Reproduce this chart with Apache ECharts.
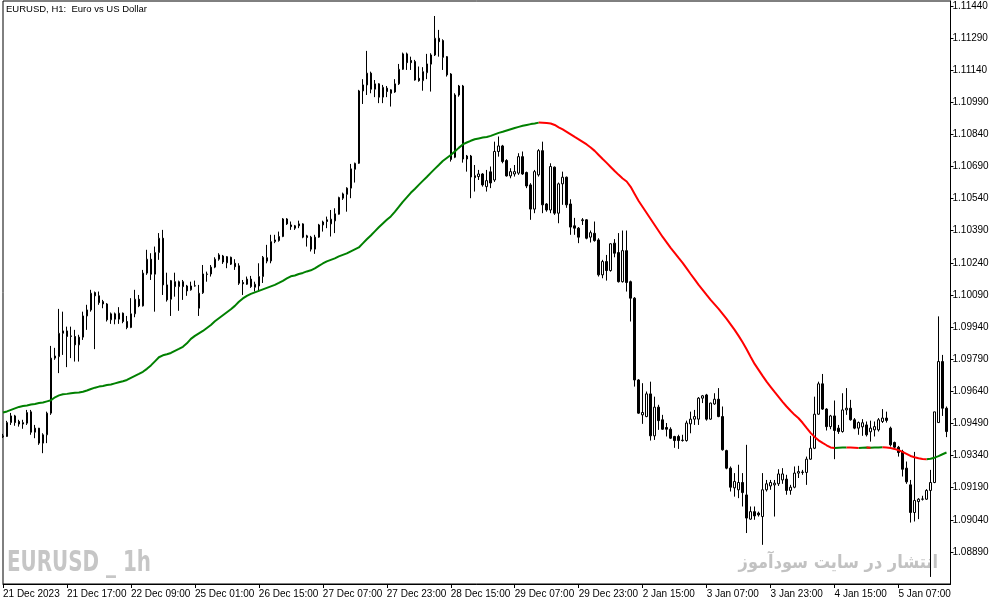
<!DOCTYPE html>
<html>
<head>
<meta charset="utf-8">
<script src="https://cdn.jsdelivr.net/npm/echarts@6/dist/echarts.min.js"></script>
<style>
html,body{margin:0;padding:0;background:#fff;}
#chart{width:1003px;height:605px;}
</style>
</head>
<body>
<div id="chart"></div>
<script>
// ---- data (EURUSD H1) ----
const tickLabels = ['21 Dec 2023','21 Dec 17:00','22 Dec 09:00','25 Dec 01:00','26 Dec 15:00','27 Dec 07:00','27 Dec 23:00','28 Dec 15:00','29 Dec 07:00','29 Dec 23:00','2 Jan 15:00','3 Jan 07:00','3 Jan 23:00','4 Jan 15:00','5 Jan 07:00'];
const barsPerTick = 16;

const opens = [
1.09427,1.09429,1.09494,1.09525,1.09499,1.09487,1.09491,1.09544,1.09449,1.09468,
1.09398,1.09437,1.09538,1.09795,1.09802,1.09911,1.09922,1.09896,1.09896,1.09857,
1.09893,1.09992,1.10020,1.10101,1.10086,1.10059,1.10048,1.09974,1.10002,1.09977,
1.10005,1.09966,1.09938,1.10002,1.10070,1.10039,1.10192,1.10257,1.10187,1.10288,
1.10355,1.10137,1.10070,1.10152,1.10129,1.10152,1.10132,1.10114,1.10132,1.10028,
1.10100,1.10186,1.10188,1.10220,1.10257,1.10272,1.10240,1.10266,1.10238,1.10226,
1.10148,1.10140,1.10164,1.10126,1.10132,1.10176,1.10248,1.10249,1.10339,1.10344,
1.10363,1.10445,1.10417,1.10413,1.10422,1.10422,1.10366,1.10360,1.10304,1.10360,
1.10417,1.10441,1.10422,1.10436,1.10467,1.10542,1.10560,1.10589,1.10677,1.10705,
1.11043,1.11071,1.11126,1.11051,1.11076,1.11014,1.11056,1.11048,1.11038,1.11076,
1.11144,1.11216,1.11185,1.11180,1.11102,1.11091,1.11128,1.11168,1.11211,1.11289,
1.11278,1.11203,1.11122,1.10733,1.11024,1.11066,1.10725,1.10739,1.10647,1.10643,
1.10655,1.10596,1.10665,1.10627,1.10760,1.10786,1.10718,1.10646,1.10655,1.10659,
1.10736,1.10662,1.10604,1.10491,1.10651,1.10764,1.10515,1.10487,1.10687,1.10472,
1.10609,1.10640,1.10515,1.10413,1.10402,1.10437,1.10441,1.10360,1.10378,1.10347,
1.10184,1.10246,1.10204,1.10332,1.10288,1.10152,1.10297,1.10152,1.10075,1.09693,
1.09530,1.09522,1.09628,1.09432,1.09566,1.09507,1.09471,1.09463,1.09429,1.09429,
1.09410,1.09410,1.09488,1.09510,1.09510,1.09608,1.09623,1.09510,1.09581,1.09603,
1.09522,1.09363,1.09281,1.09189,1.09180,1.09214,1.09156,1.09043,1.09078,1.09071,
1.09055,1.09180,1.09198,1.09203,1.09208,1.09226,1.09230,1.09177,1.09192,1.09258,
1.09261,1.09261,1.09323,1.09374,1.09533,1.09675,1.09557,1.09475,1.09525,1.09468,
1.09452,1.09553,1.09561,1.09507,1.09468,1.09474,1.09483,1.09451,1.09460,1.09460,
1.09499,1.09515,1.09468,1.09401,1.09379,1.09359,1.09281,1.09203,1.09074,1.09125,
1.09136,1.09136,1.09177,1.09214,1.09494,1.09779,1.09561
];
const highs = [
1.09441,1.09502,1.09539,1.09530,1.09507,1.09507,1.09553,1.09553,1.09483,1.09469,
1.09444,1.09545,1.09852,1.09843,1.10025,1.10012,1.09942,1.09942,1.09927,1.09904,
1.10012,1.10044,1.10114,1.10106,1.10106,1.10067,1.10052,1.10008,1.10008,1.10033,
1.10008,1.09992,1.10075,1.10114,1.10090,1.10207,1.10301,1.10285,1.10316,1.10379,
1.10394,1.10194,1.10160,1.10194,1.10157,1.10160,1.10137,1.10152,1.10157,1.10137,
1.10230,1.10199,1.10230,1.10266,1.10285,1.10277,1.10272,1.10269,1.10257,1.10238,
1.10160,1.10176,1.10179,1.10152,1.10238,1.10272,1.10324,1.10371,1.10371,1.10386,
1.10449,1.10449,1.10433,1.10417,1.10437,1.10425,1.10371,1.10366,1.10371,1.10422,
1.10437,1.10456,1.10487,1.10495,1.10549,1.10568,1.10593,1.10702,1.10708,1.11048,
1.11098,1.11230,1.11133,1.11094,1.11079,1.11071,1.11066,1.11051,1.11098,1.11169,
1.11222,1.11222,1.11203,1.11188,1.11157,1.11154,1.11216,1.11219,1.11393,1.11328,
1.11284,1.11206,1.11126,1.11032,1.11071,1.11071,1.10744,1.10744,1.10697,1.10674,
1.10659,1.10674,1.10690,1.10806,1.10830,1.10791,1.10724,1.10682,1.10697,1.10752,
1.10760,1.10666,1.10612,1.10674,1.10771,1.10806,1.10519,1.10705,1.10690,1.10615,
1.10666,1.10643,1.10537,1.10450,1.10407,1.10449,1.10444,1.10391,1.10433,1.10355,
1.10254,1.10277,1.10332,1.10351,1.10379,1.10391,1.10391,1.10157,1.10080,1.09697,
1.09678,1.09639,1.09685,1.09615,1.09577,1.09530,1.09492,1.09472,1.09432,1.09437,
1.09437,1.09503,1.09545,1.09553,1.09613,1.09623,1.09628,1.09587,1.09631,1.09655,
1.09569,1.09367,1.09289,1.09258,1.09297,1.09258,1.09390,1.09102,1.09102,1.09078,
1.09258,1.09226,1.09226,1.09226,1.09276,1.09281,1.09250,1.09203,1.09289,1.09292,
1.09273,1.09335,1.09432,1.09615,1.09685,1.09721,1.09561,1.09530,1.09597,1.09483,
1.09631,1.09655,1.09600,1.09515,1.09499,1.09510,1.09499,1.09503,1.09499,1.09515,
1.09557,1.09545,1.09475,1.09405,1.09385,1.09367,1.09312,1.09226,1.09357,1.09141,
1.09152,1.09183,1.09273,1.09544,1.09990,1.09810,1.09569
];
const lows = [
1.09422,1.09427,1.09483,1.09479,1.09475,1.09465,1.09483,1.09437,1.09421,1.09390,
1.09351,1.09398,1.09530,1.09787,1.09725,1.09810,1.09753,1.09795,1.09779,1.09779,
1.09880,1.09927,1.10012,1.09837,1.10044,1.10028,1.09966,1.09955,1.09953,1.09955,
1.09958,1.09930,1.09935,1.09986,1.10033,1.10036,1.10184,1.10160,1.10012,1.10254,
1.10090,1.10059,1.09992,1.10082,1.10016,1.10067,1.10086,1.10110,1.10129,1.09992,
1.10095,1.10152,1.10176,1.10215,1.10250,1.10235,1.10215,1.10230,1.10207,1.10137,
1.10090,1.10137,1.10123,1.10106,1.10106,1.10146,1.10238,1.10238,1.10332,1.10339,
1.10360,1.10417,1.10394,1.10394,1.10402,1.10355,1.10316,1.10293,1.10282,1.10357,
1.10386,1.10402,1.10363,1.10379,1.10465,1.10534,1.10479,1.10542,1.10615,1.10702,
1.10982,1.11024,1.11032,1.11014,1.10986,1.10986,1.11014,1.10970,1.11034,1.11071,
1.11141,1.11141,1.11141,1.11091,1.11086,1.11044,1.11098,1.11040,1.11206,1.11203,
1.11141,1.11110,1.10713,1.10729,1.11016,1.10708,1.10666,1.10542,1.10573,1.10627,
1.10596,1.10573,1.10589,1.10618,1.10736,1.10705,1.10643,1.10635,1.10643,1.10651,
1.10651,1.10589,1.10441,1.10472,1.10643,1.10472,1.10479,1.10472,1.10464,1.10425,
1.10511,1.10497,1.10371,1.10371,1.10332,1.10417,1.10350,1.10335,1.10339,1.10176,
1.10168,1.10157,1.10199,1.10266,1.10148,1.10148,1.10106,1.09966,1.09662,1.09535,
1.09488,1.09519,1.09410,1.09413,1.09460,1.09460,1.09429,1.09417,1.09376,1.09371,
1.09405,1.09405,1.09444,1.09483,1.09483,1.09585,1.09503,1.09507,1.09577,1.09519,
1.09363,1.09276,1.09172,1.09148,1.09141,1.09102,1.08978,1.09040,1.09040,1.09055,
1.08923,1.09172,1.09180,1.09055,1.09198,1.09208,1.09157,1.09157,1.09187,1.09235,
1.09250,1.09203,1.09320,1.09370,1.09530,1.09553,1.09457,1.09463,1.09323,1.09441,
1.09447,1.09530,1.09503,1.09463,1.09437,1.09432,1.09429,1.09405,1.09429,1.09452,
1.09492,1.09494,1.09382,1.09367,1.09335,1.09242,1.09208,1.09027,1.09032,1.09043,
1.09130,1.09133,1.08773,1.09211,1.09494,1.09525,1.09426
];
const closes = [
1.09432,1.09494,1.09525,1.09494,1.09487,1.09494,1.09541,1.09449,1.09468,1.09398,
1.09437,1.09538,1.09795,1.09805,1.09911,1.09922,1.09896,1.09899,1.09857,1.09893,
1.09992,1.10020,1.10098,1.10086,1.10054,1.10048,1.09974,1.10002,1.09977,1.10005,
1.09966,1.09938,1.10002,1.10070,1.10039,1.10192,1.10257,1.10187,1.10288,1.10355,
1.10137,1.10067,1.10157,1.10129,1.10152,1.10129,1.10109,1.10132,1.10133,1.10098,
1.10188,1.10188,1.10220,1.10257,1.10277,1.10244,1.10269,1.10234,1.10222,1.10145,
1.10142,1.10164,1.10129,1.10140,1.10176,1.10266,1.10264,1.10339,1.10347,1.10363,
1.10445,1.10422,1.10409,1.10402,1.10413,1.10360,1.10358,1.10304,1.10360,1.10417,
1.10431,1.10433,1.10444,1.10469,1.10545,1.10562,1.10589,1.10679,1.10705,1.11043,
1.11071,1.11126,1.11051,1.11076,1.11014,1.11060,1.11040,1.11032,1.11076,1.11144,
1.11216,1.11175,1.11175,1.11094,1.11091,1.11133,1.11169,1.11211,1.11289,1.11273,
1.11200,1.11118,1.10723,1.11024,1.11066,1.10725,1.10739,1.10641,1.10638,1.10655,
1.10604,1.10624,1.10613,1.10760,1.10786,1.10713,1.10646,1.10666,1.10666,1.10736,
1.10655,1.10599,1.10491,1.10666,1.10764,1.10511,1.10487,1.10690,1.10472,1.10609,
1.10640,1.10511,1.10407,1.10402,1.10360,1.10441,1.10355,1.10381,1.10344,1.10184,
1.10246,1.10204,1.10329,1.10285,1.10152,1.10297,1.10148,1.10075,1.09693,1.09538,
1.09541,1.09628,1.09432,1.09566,1.09503,1.09463,1.09463,1.09421,1.09410,1.09410,
1.09412,1.09492,1.09510,1.09522,1.09608,1.09619,1.09510,1.09585,1.09603,1.09522,
1.09367,1.09281,1.09192,1.09219,1.09214,1.09167,1.09048,1.09078,1.09058,1.09063,
1.09180,1.09208,1.09214,1.09211,1.09254,1.09254,1.09177,1.09192,1.09258,1.09265,
1.09263,1.09323,1.09374,1.09533,1.09675,1.09557,1.09475,1.09525,1.09457,1.09452,
1.09553,1.09561,1.09507,1.09468,1.09494,1.09493,1.09437,1.09468,1.09475,1.09507,
1.09515,1.09504,1.09390,1.09379,1.09354,1.09276,1.09217,1.09074,1.09130,1.09136,
1.09137,1.09177,1.09214,1.09544,1.09779,1.09561,1.09452
];
const maValues = [
1.09541,1.09546,1.09553,1.09560,1.09567,1.09571,1.09574,1.09578,1.09581,1.09585,
1.09588,1.09593,1.09598,1.09612,1.09621,1.09626,1.09628,1.09631,1.09633,1.09634,
1.09638,1.09644,1.09651,1.09657,1.09662,1.09665,1.09669,1.09672,1.09677,1.09682,
1.09687,1.09693,1.09703,1.09712,1.09721,1.09731,1.09745,1.09761,1.09780,1.09799,
1.09808,1.09813,1.09819,1.09829,1.09838,1.09848,1.09864,1.09885,1.09899,1.09911,
1.09922,1.09936,1.09950,1.09967,1.09981,1.09995,1.10009,1.10023,1.10039,1.10058,
1.10074,1.10086,1.10095,1.10102,1.10109,1.10116,1.10123,1.10130,1.10137,1.10146,
1.10156,1.10167,1.10177,1.10181,1.10188,1.10193,1.10200,1.10205,1.10214,1.10226,
1.10237,1.10247,1.10254,1.10261,1.10270,1.10277,1.10284,1.10294,1.10303,1.10312,
1.10331,1.10350,1.10368,1.10387,1.10406,1.10424,1.10441,1.10457,1.10478,1.10501,
1.10525,1.10546,1.10567,1.10585,1.10604,1.10623,1.10641,1.10660,1.10679,1.10697,
1.10716,1.10730,1.10744,1.10760,1.10777,1.10793,1.10802,1.10810,1.10817,1.10821,
1.10825,1.10828,1.10833,1.10840,1.10847,1.10852,1.10858,1.10864,1.10870,1.10875,
1.10880,1.10884,1.10888,1.10891,1.10895,1.10894,1.10893,1.10891,1.10884,1.10873,
1.10863,1.10852,1.10840,1.10828,1.10817,1.10805,1.10793,1.10779,1.10763,1.10744,
1.10725,1.10707,1.10688,1.10669,1.10651,1.10634,1.10620,1.10595,1.10562,1.10529,
1.10501,1.10473,1.10445,1.10417,1.10389,1.10361,1.10336,1.10310,1.10287,1.10263,
1.10240,1.10214,1.10188,1.10163,1.10137,1.10114,1.10090,1.10067,1.10046,1.10025,
1.10002,1.09978,1.09953,1.09927,1.09899,1.09869,1.09836,1.09801,1.09768,1.09740,
1.09712,1.09685,1.09661,1.09637,1.09614,1.09591,1.09569,1.09549,1.09530,1.09514,
1.09493,1.09469,1.09446,1.09427,1.09411,1.09399,1.09388,1.09378,1.09375,1.09376,
1.09377,1.09378,1.09377,1.09376,1.09375,1.09376,1.09377,1.09376,1.09377,1.09378,
1.09379,1.09378,1.09375,1.09371,1.09365,1.09357,1.09348,1.09338,1.09332,1.09327,
1.09324,1.09323,1.09325,1.09330,1.09337,1.09346,1.09354
];
const yMin = 1.08740, yMax = 1.11463, yStep = 0.0015;

// ---- build ----
const slotCount = opens.length + 1; // one empty slot on the right edge, like the terminal
const categories = Array.from({length: slotCount}, (_, i) => String(i));
const candleData = opens.map((o, i) => [o, closes[i], lows[i], highs[i]]);

const upLine = new Array(maValues.length).fill('-');
const downLine = new Array(maValues.length).fill('-');
let rising = true;
for (let i = 1; i < maValues.length; i++) {
  if (maValues[i] > maValues[i - 1]) rising = true;
  else if (maValues[i] < maValues[i - 1]) rising = false;
  const target = rising ? upLine : downLine;
  target[i - 1] = maValues[i - 1];
  target[i] = maValues[i];
}

const FONT = "'Liberation Sans', Arial, sans-serif";
const chart = echarts.init(document.getElementById('chart'), null, {renderer: 'canvas'});
chart.setOption({
  animation: false,
  backgroundColor: '#ffffff',
  grid: {left: 2.5, right: 52.5, top: 1, bottom: 21, show: true, borderColor: '#000', borderWidth: 1, containLabel: false},
  xAxis: {
    type: 'category',
    data: categories,
    boundaryGap: false,
    axisLine: {show: true, lineStyle: {color: '#000', width: 1}},
    axisTick: {show: true, interval: barsPerTick - 1, length: 4, lineStyle: {color: '#000'}},
    axisLabel: {
      interval: barsPerTick - 1, align: 'left', margin: 5, color: '#000', fontSize: 10, fontFamily: FONT,
      formatter: (v, idx) => (idx % barsPerTick === 0 && tickLabels[idx / barsPerTick]) ? tickLabels[idx / barsPerTick] : ''
    },
    splitLine: {show: false}
  },
  yAxis: {
    type: 'value',
    position: 'right',
    min: yMin, max: yMax, interval: yStep,
    axisLine: {show: true, lineStyle: {color: '#000', width: 1}},
    axisTick: {show: true, length: 3, lineStyle: {color: '#000'}},
    axisLabel: {margin: 2, color: '#000', fontSize: 10, fontFamily: FONT, showMinLabel: false, showMaxLabel: false,
      formatter: v => v.toFixed(5)},
    splitLine: {show: false}
  },
  graphic: [
    {type: 'text', left: 6, top: 4, z: 1, style: {text: 'EURUSD, H1:  Euro vs US Dollar', fill: '#000', font: '9.5px ' + FONT}},
    {type: 'group', x: 7, y: 564, scaleX: 0.79, z: 1, children: [
      {type: 'text', x: 0, y: 0, style: {text: 'EURUSD _ 1h', fill: '#c6c6c6', font: "bold 28px 'DejaVu Sans Condensed', 'DejaVu Sans', sans-serif", textVerticalAlign: 'middle'}}
    ]},
    {type: 'group', x: 938, y: 563, scaleX: 0.9, z: 1, children: [
      {type: 'text', x: 0, y: 0, style: {text: 'انتشار در سایت سودآموز', fill: '#c2c2c2', font: "bold 18px 'DejaVu Sans', sans-serif", textAlign: 'right', textVerticalAlign: 'middle'}}
    ]}
  ],
  series: [
    {
      type: 'candlestick',
      data: candleData,
      barWidth: 2,
      z: 3,
      itemStyle: {color: '#ffffff', color0: '#000000', borderColor: '#000000', borderColor0: '#000000', borderColorDoji: '#000000', borderWidth: 1}
    },
    {type: 'line', data: upLine, symbol: 'none', z: 4, connectNulls: false, lineStyle: {color: '#008000', width: 2}},
    {type: 'line', data: downLine, symbol: 'none', z: 4, connectNulls: false, lineStyle: {color: '#ff0000', width: 2}}
  ]
});
</script>
</body>
</html>
